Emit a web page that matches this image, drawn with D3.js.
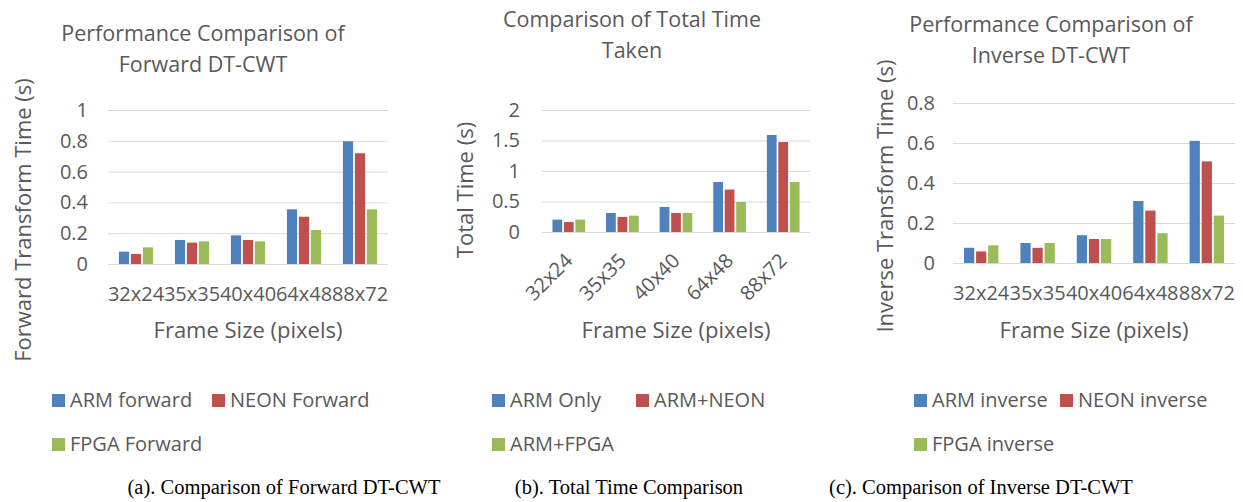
<!DOCTYPE html>
<html>
<head>
<meta charset="utf-8">
<script src="https://cdn.jsdelivr.net/npm/d3@7"></script>
<style>
body { margin: 0; background: #fff; }
text { font-family: "Open Sans", sans-serif; fill: #595959; }
text.caption { font-family: "Liberation Serif", "Times New Roman", serif; fill: #000; }
</style>
</head>
<body>
<div id="chart"></div>
<script>
// Frame sizes along the x axis
var categories = ["32x24", "35x35", "40x40", "64x48", "88x72"];

// (a) forward DT-CWT times (s)
var armForward = [0.08, 0.156, 0.186, 0.355, 0.797];
var neonForward = [0.065, 0.139, 0.156, 0.307, 0.719];
var fpgaForward = [0.108, 0.147, 0.147, 0.221, 0.355];
var namesA = ["ARM forward", "NEON Forward", "FPGA Forward"];
var ticksA = [0, 0.2, 0.4, 0.6, 0.8, 1];
var tickLabelsA = ["0", "0.2", "0.4", "0.6", "0.8", "1"];

// (b) total time taken (s)
var armOnly = [0.203, 0.312, 0.41, 0.82, 1.59];
var armNeon = [0.164, 0.247, 0.312, 0.696, 1.474];
var armFpga = [0.203, 0.268, 0.312, 0.493, 0.82];
var namesB = ["ARM Only", "ARM+NEON", "ARM+FPGA"];
var ticksB = [0, 0.5, 1, 1.5, 2];
var tickLabelsB = ["0", "0.5", "1", "1.5", "2"];

// (c) inverse DT-CWT times (s)
var armInverse = [0.076, 0.1, 0.139, 0.31, 0.611];
var neonInverse = [0.058, 0.076, 0.12, 0.262, 0.508];
var fpgaInverse = [0.088, 0.1, 0.12, 0.149, 0.237];
var namesC = ["ARM inverse", "NEON inverse", "FPGA inverse"];
var ticksC = [0, 0.2, 0.4, 0.6, 0.8];
var tickLabelsC = ["0", "0.2", "0.4", "0.6", "0.8"];

var colors = ["#4f81bd", "#c0504d", "#9bbb59"];

var svg = d3.select('#chart').append('svg')
    .attr('width', 1243)
    .attr('height', 502);

function drawPanel(p) {
    var x = d3.scaleBand().domain(categories)
        .range([p.left, p.right])
        .paddingInner(0.39).paddingOuter(0.195);
    var xs = d3.scaleBand().domain(d3.range(p.series.length))
        .range([0, x.bandwidth()])
        .paddingInner(0.15);
    var y = d3.scaleLinear().domain([0, p.max]).range([p.bottom, p.top]);

    var g = svg.append('g');

    // gridlines and value labels
    var yAxis = g.append('g')
        .attr('transform', 'translate(' + p.left + ',0)')
        .call(d3.axisLeft(y)
            .tickValues(p.ticks)
            .tickSize(-(p.right - p.left))
            .tickPadding(p.tickPad)
            .tickFormat(function (d, i) { return p.tickLabels[i]; }))
        .attr('font-size', 20)
        .attr('font-family', null);
    yAxis.select('.domain').remove();
    yAxis.selectAll('line').attr('stroke', '#d9d9d9');

    // bars
    p.series.forEach(function (vals, i) {
        g.selectAll('.bar' + i)
            .data(vals)
            .enter().append('rect')
            .attr('x', function (d, j) { return x(categories[j]) + xs(i); })
            .attr('y', function (d) { return y(d); })
            .attr('width', xs.bandwidth())
            .attr('height', function (d) { return p.bottom - y(d); })
            .attr('fill', colors[i]);
    });

    // category labels
    var xAxis = g.append('g')
        .attr('transform', 'translate(0,' + p.bottom + ')')
        .call(d3.axisBottom(x).tickSize(0))
        .attr('font-size', 20)
        .attr('font-family', null);
    xAxis.select('.domain').remove();
    if (p.rotate) {
        xAxis.selectAll('text')
            .attr('x', 0).attr('y', 0).attr('dy', 0)
            .attr('text-anchor', 'end')
            .attr('transform', 'translate(5,30) rotate(-45)');
    } else {
        xAxis.selectAll('text').attr('y', 37).attr('dy', 0);
    }

    // chart title
    p.title.forEach(function (line, i) {
        g.append('text')
            .attr('x', p.titleX).attr('y', p.titleY[i])
            .attr('text-anchor', 'middle')
            .style('font-size', '21.5px')
            .text(line);
    });

    // axis titles
    g.append('text')
        .attr('transform', 'translate(' + p.yTitleX + ',' + p.yTitleY + ') rotate(-90)')
        .attr('text-anchor', 'middle')
        .style('font-size', '22px')
        .text(p.yTitle);
    g.append('text')
        .attr('x', (p.left + p.right) / 2).attr('y', 338)
        .attr('text-anchor', 'middle')
        .style('font-size', '22px')
        .text('Frame Size (pixels)');

    // legend: two on the first row, one below
    var spots = [[p.legendX[0], 407], [p.legendX[1], 407], [p.legendX[0], 451]];
    p.names.forEach(function (name, i) {
        g.append('rect')
            .attr('x', spots[i][0]).attr('y', spots[i][1] - 13)
            .attr('width', 13).attr('height', 13)
            .attr('fill', colors[i]);
        g.append('text')
            .attr('x', spots[i][0] + 18).attr('y', spots[i][1])
            .style('font-size', '20px')
            .text(name);
    });

    // figure caption
    g.append('text')
        .attr('class', 'caption')
        .attr('x', p.captionX).attr('y', 494)
        .attr('text-anchor', 'middle')
        .style('font-size', '20.5px')
        .text(p.caption);
}

drawPanel({
    series: [armForward, neonForward, fpgaForward], names: namesA,
    ticks: ticksA, tickLabels: tickLabelsA, max: 1,
    left: 108, right: 388, top: 110, bottom: 264, tickPad: 20,
    title: ['Performance Comparison of', 'Forward DT-CWT'], titleX: 203, titleY: [41, 72],
    yTitle: 'Forward Transform Time (s)', yTitleX: 31, yTitleY: 220,
    legendX: [52, 212],
    caption: '(a). Comparison of Forward DT-CWT', captionX: 284
});

drawPanel({
    series: [armOnly, armNeon, armFpga], names: namesB,
    ticks: ticksB, tickLabels: tickLabelsB, max: 2,
    left: 542, right: 810, top: 110, bottom: 232, tickPad: 22, rotate: true,
    title: ['Comparison of Total Time', 'Taken'], titleX: 632, titleY: [27, 58],
    yTitle: 'Total Time (s)', yTitleX: 473, yTitleY: 190,
    legendX: [492, 636],
    caption: '(b). Total Time Comparison', captionX: 629
});

drawPanel({
    series: [armInverse, neonInverse, fpgaInverse], names: namesC,
    ticks: ticksC, tickLabels: tickLabelsC, max: 0.8,
    left: 953, right: 1235, top: 103, bottom: 263, tickPad: 18,
    title: ['Performance Comparison of', 'Inverse DT-CWT'], titleX: 1051, titleY: [32, 63],
    yTitle: 'Inverse Transform Time (s)', yTitleX: 893, yTitleY: 196,
    legendX: [914, 1060],
    caption: '(c). Comparison of Inverse DT-CWT', captionX: 981
});
</script>
</body>
</html>
